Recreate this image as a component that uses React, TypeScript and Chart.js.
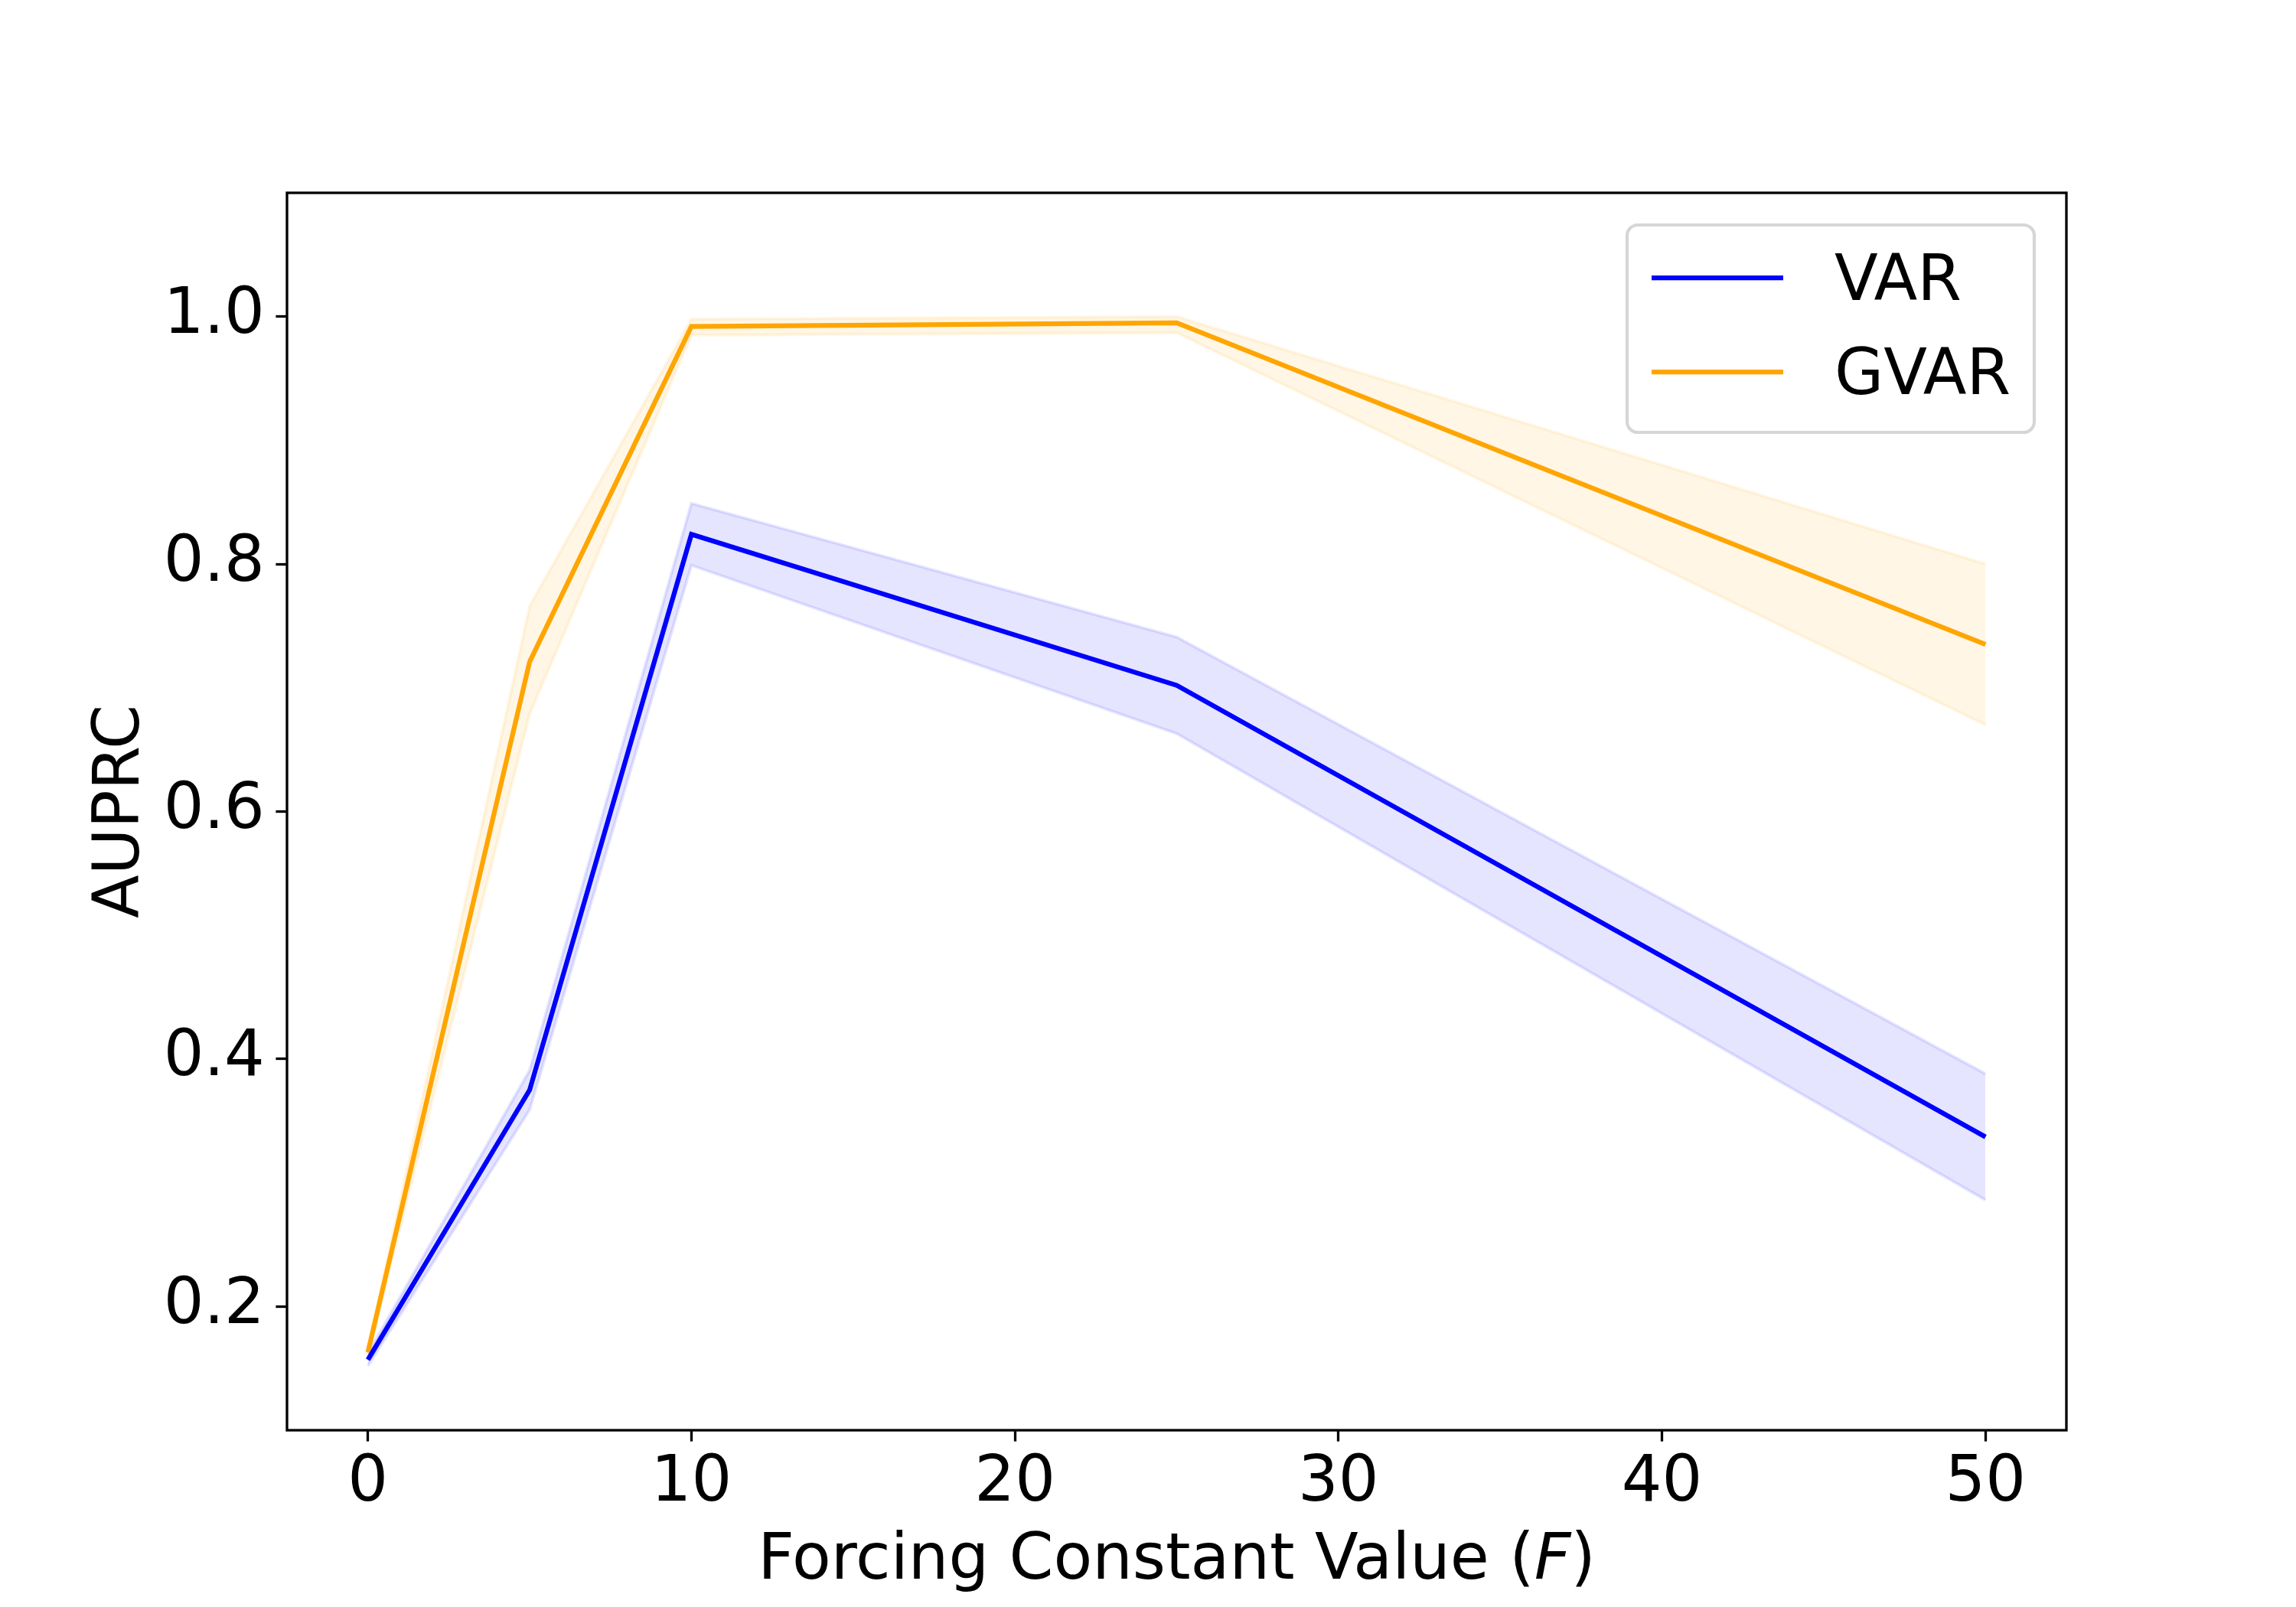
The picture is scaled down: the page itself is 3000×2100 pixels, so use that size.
import { useEffect, useRef } from 'react';
import { Chart, registerables } from 'chart.js';

Chart.register(...registerables);

// forcing constant F on the x axis
const forcing = [0, 5, 10, 25, 50];

const varMean = [0.157, 0.375, 0.824, 0.702, 0.337];
const varUpper = [0.162, 0.391, 0.849, 0.741, 0.388];
const varLower = [0.152, 0.359, 0.799, 0.663, 0.286];

const gvarMean = [0.163, 0.721, 0.992, 0.995, 0.735];
const gvarUpper = [0.166, 0.766, 0.998, 1.0, 0.8];
const gvarLower = [0.16, 0.679, 0.985, 0.987, 0.67];

const xTicks = [0, 10, 20, 30, 40, 50];
const yTicks = [0.2, 0.4, 0.6, 0.8, 1.0];

const FONT = "'DejaVu Sans', sans-serif";
const FS = 83;
const LW = 6.25;
const SPINE = 3.3;

const pts = (ys: number[]) => forcing.map((x, i) => ({ x, y: ys[i] }));

const framePlugin = {
    id: 'frame',
    afterDraw(chart: any) {
        const { ctx, chartArea: a } = chart;
        ctx.save();
        ctx.strokeStyle = '#000';
        ctx.lineWidth = SPINE;
        ctx.strokeRect(a.left, a.top, a.right - a.left, a.bottom - a.top);
        ctx.restore();
    },
};

// x label with the italic F
const xLabelPlugin = {
    id: 'xLabel',
    afterDraw(chart: any) {
        const { ctx, chartArea: a } = chart;
        const parts = [
            { t: 'Forcing Constant Value (', f: `${FS}px ${FONT}` },
            { t: 'F', f: `italic ${FS}px ${FONT}` },
            { t: ')', f: `${FS}px ${FONT}` },
        ];
        ctx.save();
        ctx.fillStyle = '#000';
        ctx.textBaseline = 'alphabetic';
        ctx.textAlign = 'left';
        let total = 0;
        parts.forEach((p) => {
            ctx.font = p.f;
            total += ctx.measureText(p.t).width;
        });
        let x = (a.left + a.right) / 2 - total / 2;
        const y = a.bottom + 194;
        parts.forEach((p) => {
            ctx.font = p.f;
            ctx.fillText(p.t, x, y);
            x += ctx.measureText(p.t).width;
        });
        ctx.restore();
    },
};

const legendPlugin = {
    id: 'boxLegend',
    afterDraw(chart: any) {
        const { ctx, chartArea: a } = chart;
        const items = chart.data.datasets.filter((d: any) => d.legendEntry);
        const w = 532;
        const h = 271;
        const left = a.right - 42 - w;
        const top = a.top + 42;
        ctx.save();
        ctx.beginPath();
        ctx.roundRect(left, top, w, h, 14);
        ctx.fillStyle = 'rgba(255,255,255,0.8)';
        ctx.fill();
        ctx.lineWidth = 4.2;
        ctx.strokeStyle = 'rgba(204,204,204,0.8)';
        ctx.stroke();
        ctx.font = `${FS}px ${FONT}`;
        ctx.textAlign = 'left';
        ctx.textBaseline = 'alphabetic';
        items.forEach((d: any, i: number) => {
            const y = top + 69 + i * 123;
            ctx.beginPath();
            ctx.moveTo(left + 32, y);
            ctx.lineTo(left + 204, y);
            ctx.strokeStyle = d.borderColor;
            ctx.lineWidth = LW;
            ctx.stroke();
            ctx.fillStyle = '#000';
            ctx.fillText(d.label, left + 271, y + 29);
        });
        ctx.restore();
    },
};

export default function App() {
    const chartRef = useRef<HTMLCanvasElement | null>(null);
    const chartInstanceRef = useRef<Chart | null>(null);

    useEffect(() => {
        document.body.style.margin = '0';
        if (!chartRef.current) return;
        const ctx = chartRef.current.getContext('2d');
        if (!ctx) return;

        if (chartInstanceRef.current) {
            chartInstanceRef.current.destroy();
        }

        const tickFont = { family: FONT, size: FS, lineHeight: 1 };

        chartInstanceRef.current = new Chart(ctx, {
            type: 'line',
            data: {
                datasets: [
                    {
                        label: 'VAR',
                        data: pts(varMean),
                        borderColor: '#0000ff',
                        borderWidth: LW,
                        pointRadius: 0,
                        fill: false,
                        order: 0,
                        legendEntry: true,
                    } as any,
                    {
                        label: 'GVAR',
                        data: pts(gvarMean),
                        borderColor: '#ffa500',
                        borderWidth: LW,
                        pointRadius: 0,
                        fill: false,
                        order: 0,
                        legendEntry: true,
                    } as any,
                    {
                        label: 'VAR upper',
                        data: pts(varUpper),
                        borderColor: 'rgba(0,0,255,0.1)',
                        borderWidth: 4,
                        pointRadius: 0,
                        fill: false,
                        order: 1,
                    },
                    {
                        label: 'VAR lower',
                        data: pts(varLower),
                        borderColor: 'rgba(0,0,255,0.1)',
                        backgroundColor: 'rgba(0,0,255,0.1)',
                        borderWidth: 4,
                        pointRadius: 0,
                        fill: '-1',
                        order: 1,
                    },
                    {
                        label: 'GVAR upper',
                        data: pts(gvarUpper),
                        borderColor: 'rgba(255,165,0,0.1)',
                        borderWidth: 4,
                        pointRadius: 0,
                        fill: false,
                        order: 1,
                    },
                    {
                        label: 'GVAR lower',
                        data: pts(gvarLower),
                        borderColor: 'rgba(255,165,0,0.1)',
                        backgroundColor: 'rgba(255,165,0,0.1)',
                        borderWidth: 4,
                        pointRadius: 0,
                        fill: '-1',
                        order: 1,
                    },
                ],
            },
            options: {
                animation: false,
                responsive: false,
                devicePixelRatio: 1,
                layout: { padding: { top: 252, right: 300, left: 0, bottom: 0 } },
                plugins: {
                    legend: { display: false },
                    tooltip: { enabled: false },
                },
                scales: {
                    x: {
                        type: 'linear',
                        min: -2.5,
                        max: 52.5,
                        afterBuildTicks: (scale: any) => {
                            scale.ticks = xTicks.map((v) => ({ value: v }));
                        },
                        afterFit: (scale: any) => {
                            scale.height = 231;
                        },
                        grid: {
                            drawOnChartArea: false,
                            drawTicks: true,
                            tickLength: 14.6,
                            tickWidth: SPINE,
                            tickColor: '#000',
                        },
                        border: { display: false },
                        ticks: {
                            color: '#000',
                            font: tickFont,
                            padding: 14.6,
                            autoSkip: false,
                            maxRotation: 0,
                            callback: (v: any) => String(v),
                        },
                    },
                    y: {
                        type: 'linear',
                        min: 0.1,
                        max: 1.1,
                        afterBuildTicks: (scale: any) => {
                            scale.ticks = yTicks.map((v) => ({ value: v }));
                        },
                        afterFit: (scale: any) => {
                            scale.width = 375;
                        },
                        grid: {
                            drawOnChartArea: false,
                            drawTicks: true,
                            tickLength: 14.6,
                            tickWidth: SPINE,
                            tickColor: '#000',
                        },
                        border: { display: false },
                        title: {
                            display: true,
                            text: 'AUPRC',
                            color: '#000',
                            font: { family: FONT, size: FS, lineHeight: 1.2 },
                            padding: { top: 110, bottom: 0 },
                        },
                        ticks: {
                            color: '#000',
                            font: tickFont,
                            padding: 14.6,
                            autoSkip: false,
                            callback: (v: any) => Number(v).toFixed(1),
                        },
                    },
                },
            },
            plugins: [framePlugin, xLabelPlugin, legendPlugin],
        });

        return () => {
            if (chartInstanceRef.current) {
                chartInstanceRef.current.destroy();
                chartInstanceRef.current = null;
            }
        };
    }, []);

    return (
        <div style={{ width: 3000, height: 2100, background: '#fff' }}>
            <canvas ref={chartRef} width={3000} height={2100} style={{ display: 'block', width: 3000, height: 2100 }}></canvas>
        </div>
    );
}
